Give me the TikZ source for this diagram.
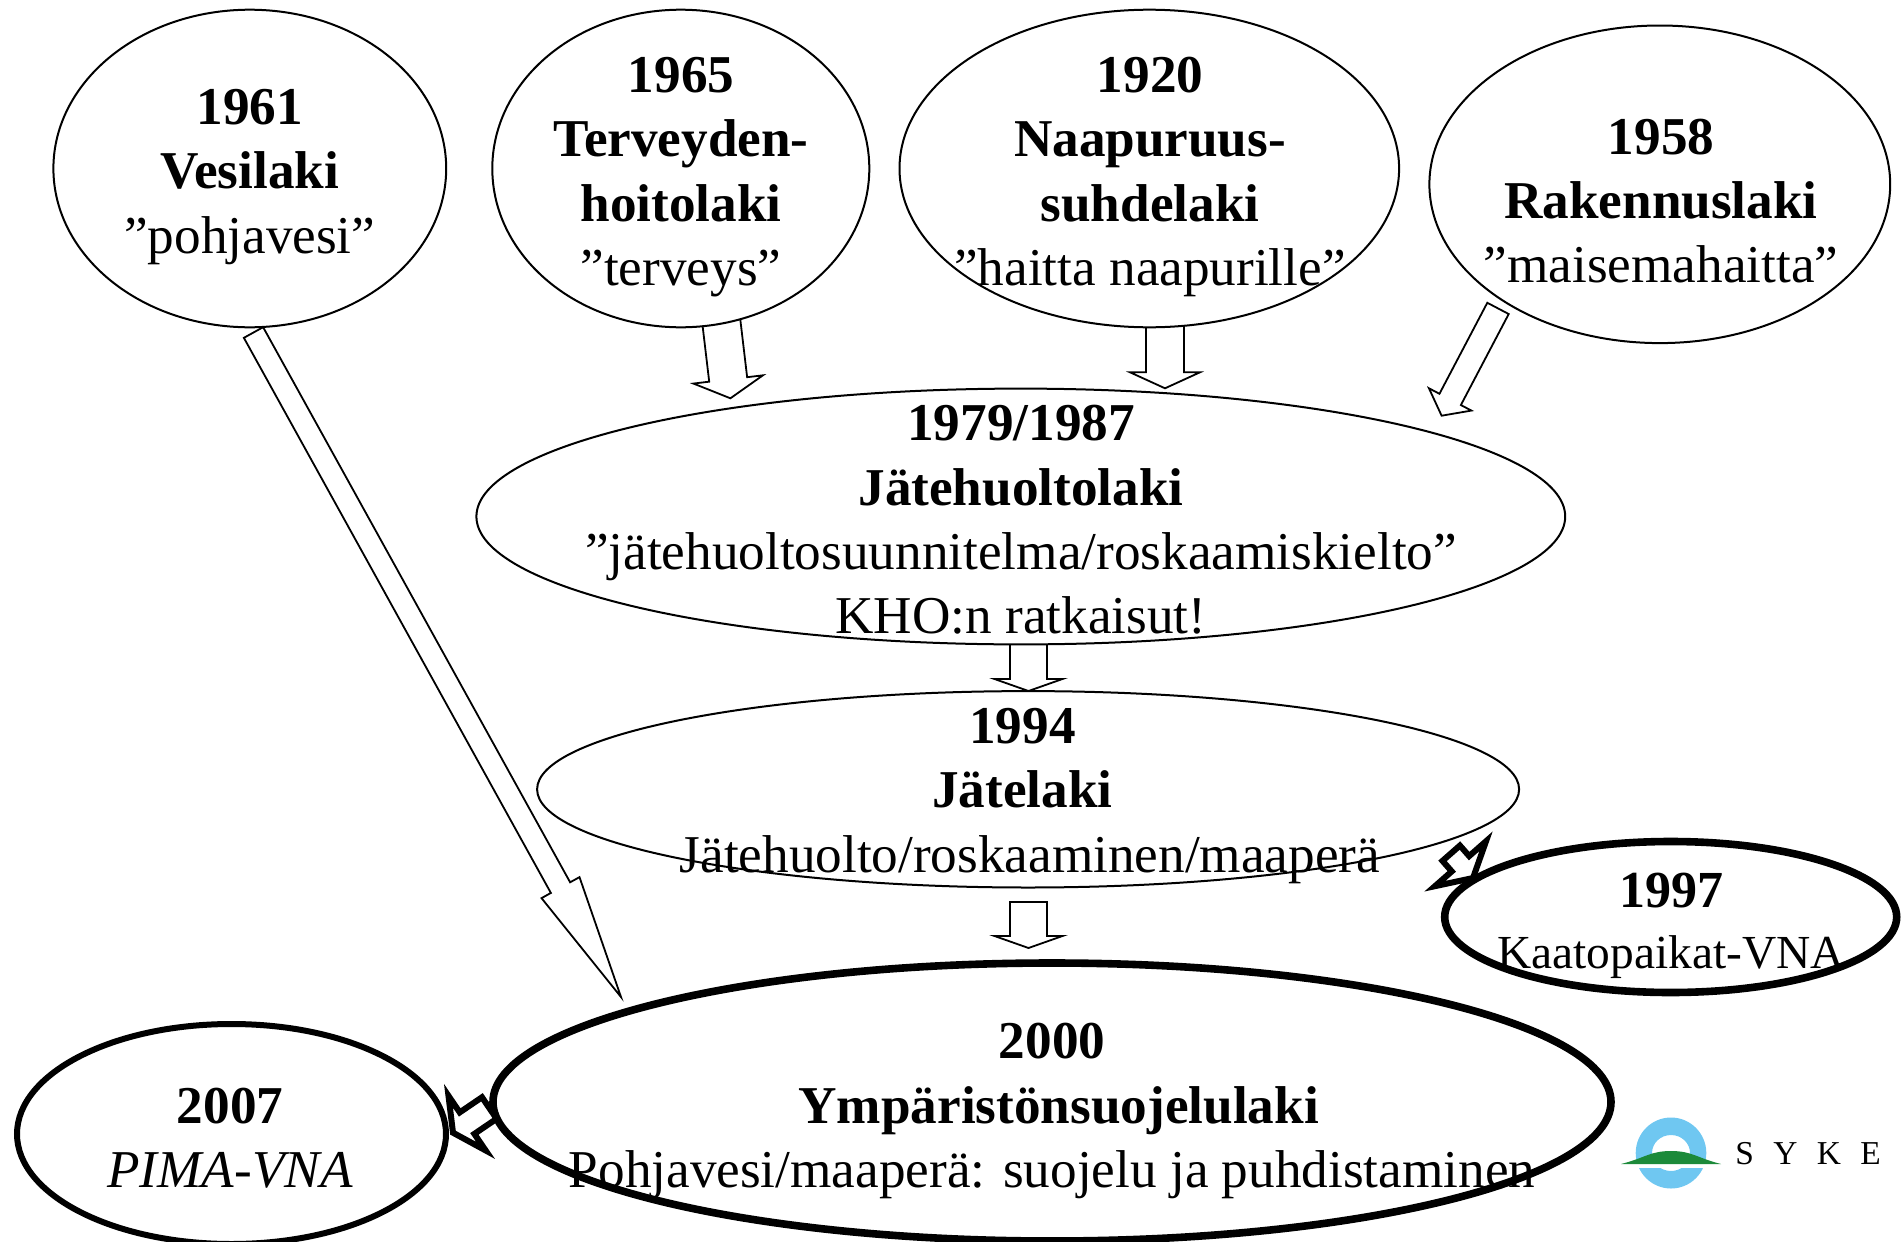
\documentclass[tikz,border=0pt]{standalone}
\usepackage{fontspec}
\setmainfont{Liberation Serif}
\usetikzlibrary{calc,shapes.geometric}
\definecolor{sykeblue}{HTML}{6FC7F1}
\definecolor{sykegreen}{HTML}{1C8A3A}
\tikzset{
  lawshape/.style={ellipse,draw=black,fill=white,line width=1pt,inner sep=0pt,outer sep=0pt},
  heavy/.style={line width=3.8pt},
  medium/.style={line width=3pt},
  lawtext/.style={align=center,inner sep=0pt,font=\fontsize{26.6}{32.15}\selectfont},
  smalltext/.style={align=center,inner sep=0pt,font=\fontsize{26}{32.15}\selectfont},
  thinarrow/.style={draw=black,fill=white,line width=0.9pt,miter limit=10},
  thickarrow/.style={draw=black,fill=white,line width=3pt,miter limit=10},
}
\newcommand{\blockarrow}[6]{%
  \coordinate (sh) at ($(#3)!#6pt!(#2)$);
  \draw[#1] ($(#2)!#4pt!90:(#3)$) -- ($(sh)!#4pt!90:(#3)$) -- ($(sh)!#5pt!90:(#3)$)
    -- (#3) -- ($(sh)!#5pt!-90:(#3)$) -- ($(sh)!#4pt!-90:(#3)$) -- ($(#2)!#4pt!-90:(#3)$) -- cycle;}
\begin{document}
\begin{tikzpicture}[x=0.5pt,y=-0.5pt]
\useasboundingbox (0,0) rectangle (1901,1242);
% connector ends
\coordinate (a1from) at (253.5,332.5); \coordinate (a1to) at (621,997);
\coordinate (a2from) at (720.3,313);   \coordinate (a2to) at (730.4,398.3);
\coordinate (a3from) at (1165,320);    \coordinate (a3to) at (1165,388.3);
\coordinate (a4from) at (1498,308.4);  \coordinate (a4to) at (1441.6,415.7);
\coordinate (a5from) at (1028.5,638);  \coordinate (a5to) at (1028.5,691);
\coordinate (a6from) at (1028.5,902);  \coordinate (a6to) at (1028.5,948);
\coordinate (a7from) at (1451.2,853.2);\coordinate (a7to) at (1473,878);
\coordinate (a8from) at (489.3,1108);  \coordinate (a8to) at (453,1132.7);
% block arrows
\blockarrow{thinarrow}{a1from}{a1to}{5.5}{10.85}{62.5}
\blockarrow{thinarrow}{a2from}{a2to}{9.55}{17.5}{9.5}
\blockarrow{thinarrow}{a3from}{a3to}{9.5}{17.5}{8}
\blockarrow{thinarrow}{a4from}{a4to}{6.05}{12}{9.2}
\blockarrow{thinarrow}{a5from}{a5to}{9.25}{17}{6}
\blockarrow{thinarrow}{a6from}{a6to}{9.25}{17}{6}
\blockarrow{thickarrow}{a7from}{a7to}{5.8}{17}{9.5}
\blockarrow{thickarrow}{a8from}{a8to}{6.5}{16.5}{8.5}
% law ellipses
\node[lawshape,minimum width=196.4pt,minimum height=158.8pt] (e1961) at (249.8,168.5) {};
\node[lawshape,minimum width=188.5pt,minimum height=158.8pt] (e1965) at (680.8,168.5) {};
\node[lawshape,minimum width=249.8pt,minimum height=158.8pt] (e1920) at (1149.3,168.5) {};
\node[lawshape,minimum width=230.4pt,minimum height=158.8pt] (e1958) at (1659.8,184.3) {};
\node[lawshape,minimum width=544.4pt,minimum height=127.9pt] (e1979) at (1020.8,516.5) {};
\node[lawshape,minimum width=491pt,minimum height=98.2pt] (e1994) at (1028.1,789.3) {};
\node[lawshape,heavy,minimum width=226pt,minimum height=75.5pt] (e1997) at (1670.7,917) {};
\node[lawshape,heavy,minimum width=559pt,minimum height=139pt] (e2000) at (1052,1102) {};
\node[lawshape,medium,minimum width=214.5pt,minimum height=110pt] (e2007) at (231.5,1134) {};
% texts
\node[lawtext] (t1961) at (249.8,177) {\textbf{1961}\\\textbf{Vesilaki}\\”pohjavesi”};
\node[lawtext] (t1965) at (681,177) {\textbf{1965}\\\textbf{Terveyden-}\\\textbf{hoitolaki}\\”terveys”};
\node[lawtext] (t1920) at (1150,177) {\textbf{1920}\\\textbf{Naapuruus-}\\\textbf{suhdelaki}\\”haitta naapurille”};
\node[lawtext] (t1958) at (1661,201) {\textbf{1958}\\\textbf{Rakennuslaki}\\”maisemahaitta”};
\node[lawtext] (t1979) at (1021,520) {\textbf{1979/1987}\\\textbf{Jätehuoltolaki}\\”jätehuoltosuunnitelma/roskaamiskielto”\\KHO:n ratkaisut!};
\node[lawtext] (t1994) at (1022.5,796) {\textbf{1994}\\\textbf{Jätelaki}\\\hspace*{7.3pt}Jätehuolto/roskaaminen/maaperä};
\node[smalltext] (t1997) at (1671,926) {\textbf{1997}\\[-1.8pt]{\fontsize{23.7}{32.15}\selectfont Kaatopaikat-VNA}};
\node[lawtext] (t2000) at (1052,1111) {\textbf{2000}\\\hspace*{6.7pt}\textbf{Ympäristönsuojelulaki}\\Pohjavesi/maaperä: suojelu ja puhdistaminen};
\node[lawtext] (t2007) at (230,1138) {\textbf{2007}\\\textit{PIMA-VNA}};
% logo
\fill[sykeblue,even odd rule] (1671,1153) ellipse [x radius=35.3,y radius=35.5] (1671,1153) ellipse [x radius=19,y radius=18];
\fill[white] (1621,1160) rectangle (1721,1168);
\fill[sykegreen] (1621,1164) .. controls (1645,1158) and (1650,1151) .. (1671,1151) .. controls (1692,1151) and (1697,1158) .. (1721,1164) -- cycle;
\node[anchor=base west,inner sep=0pt,font=\fontsize{16.7}{20}\selectfont\addfontfeature{LetterSpace=58}] (syke) at (1735,1164) {SYKE};
\end{tikzpicture}
\end{document}
